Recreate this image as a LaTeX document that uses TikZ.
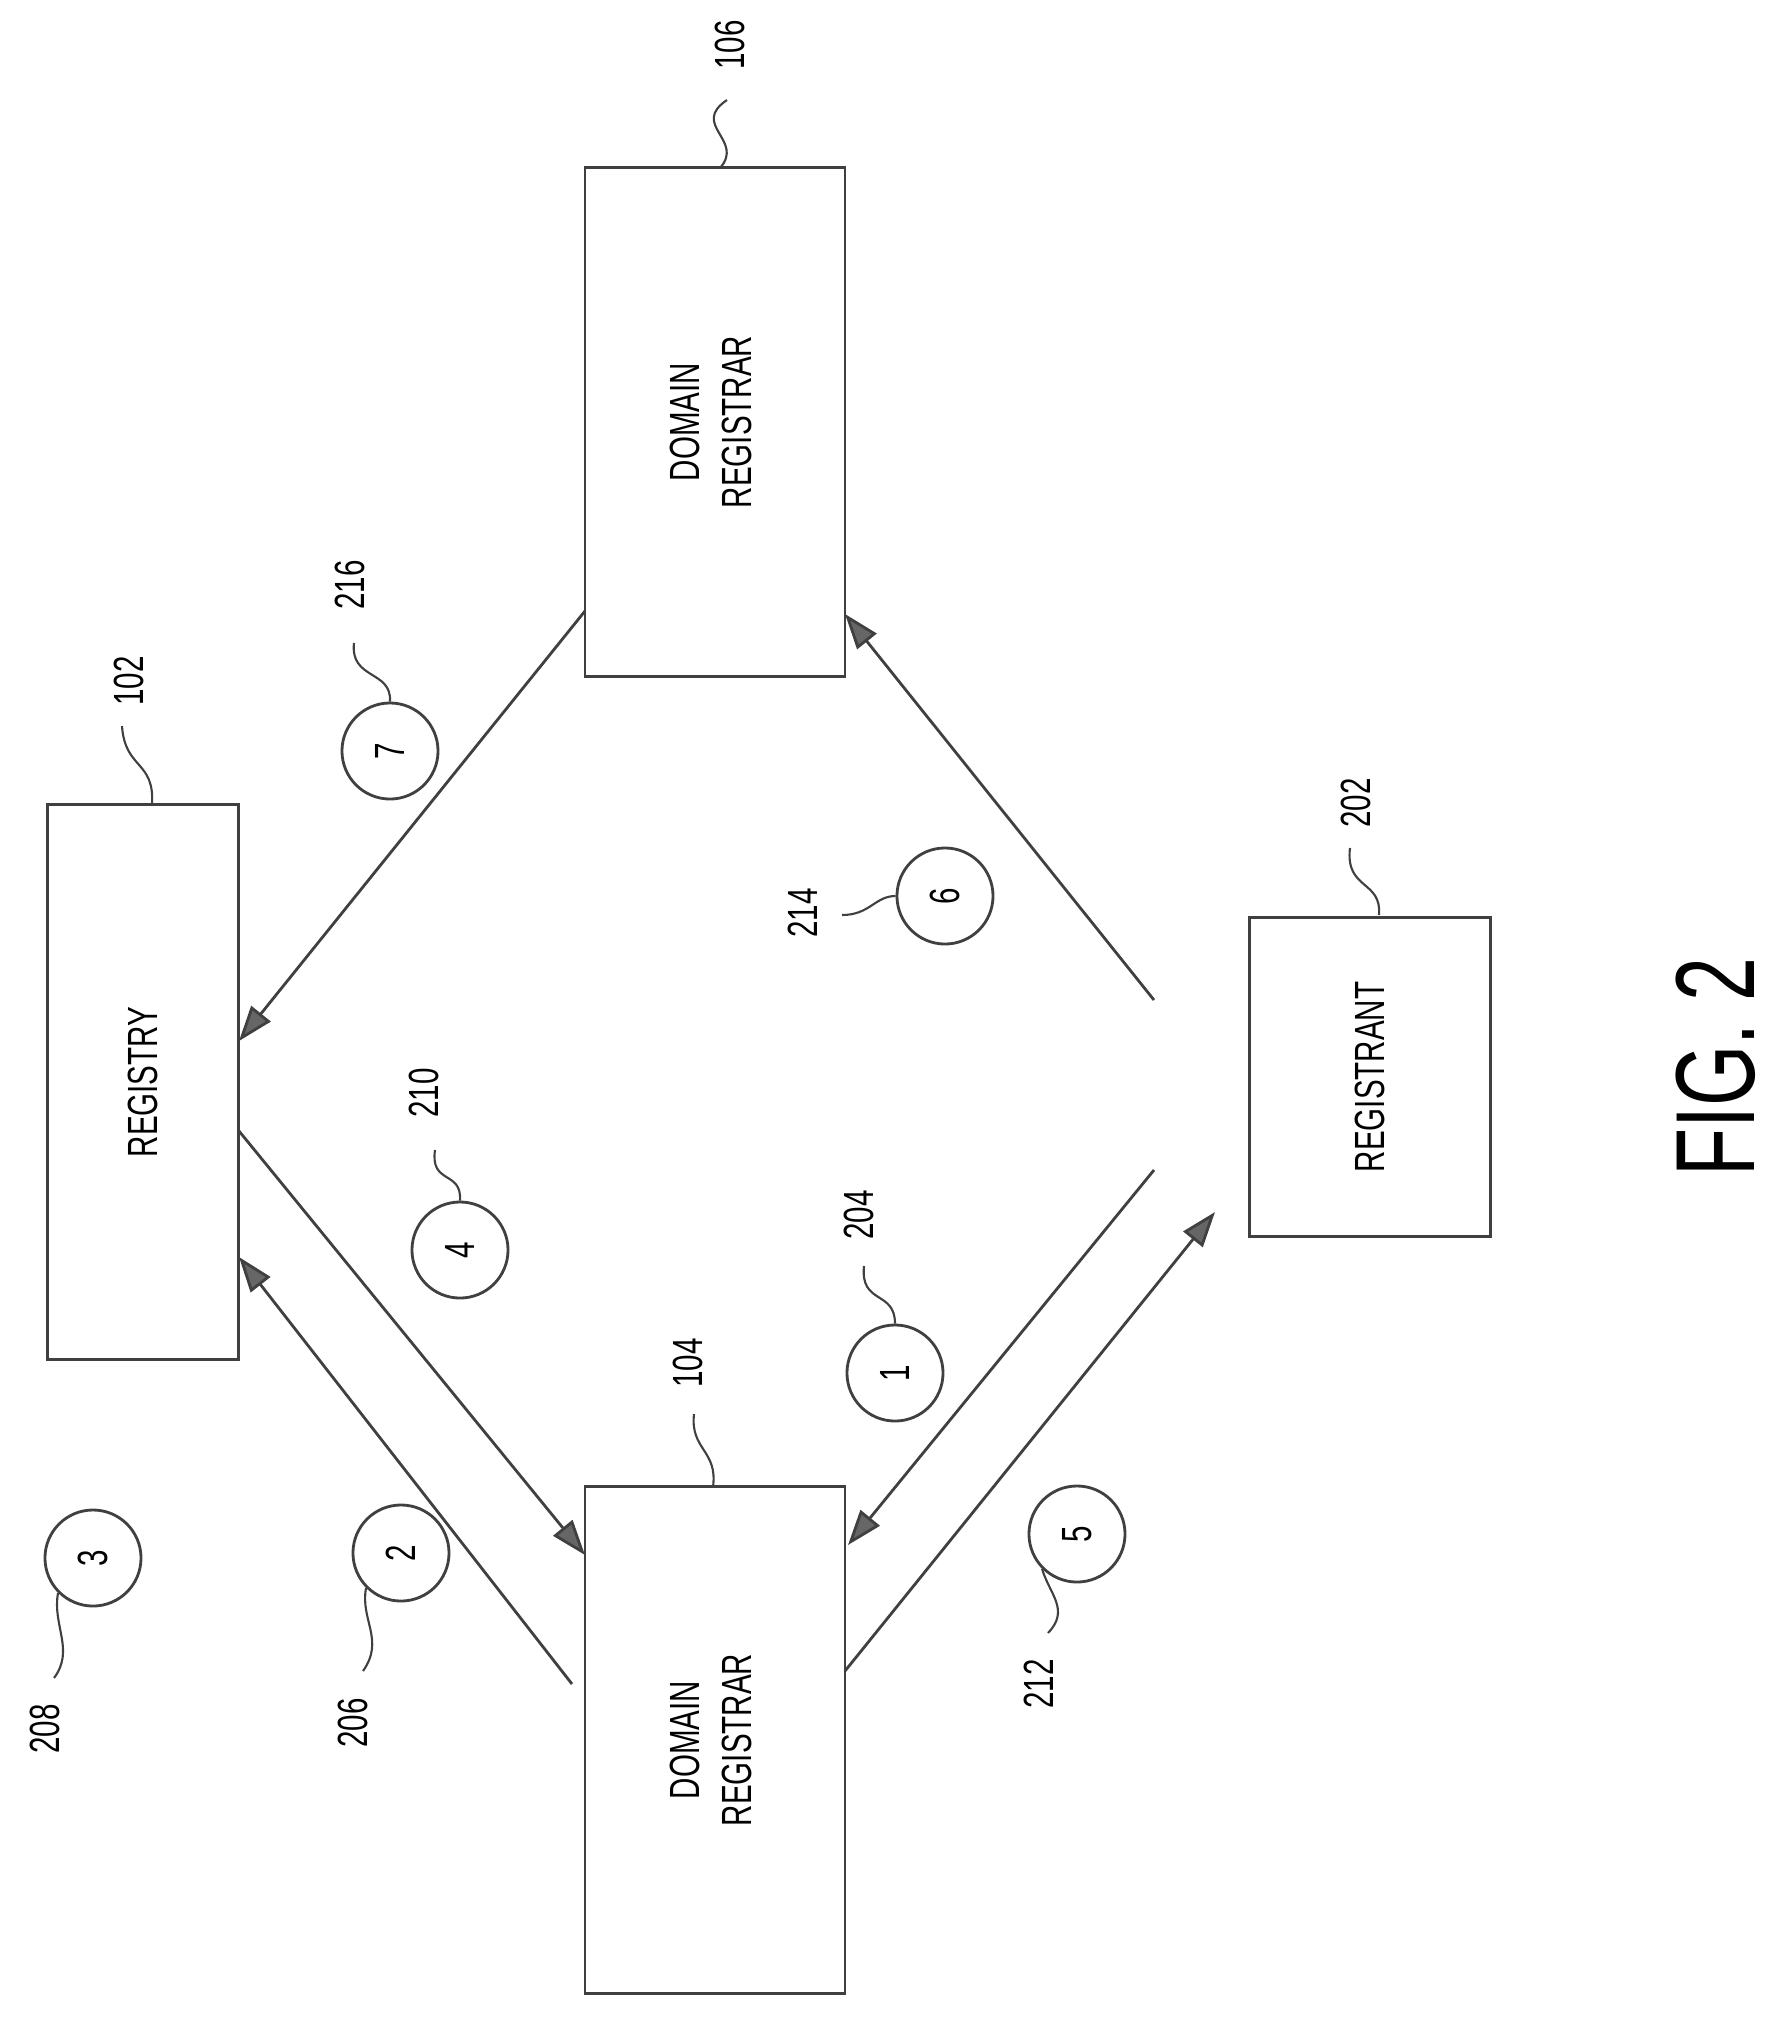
\documentclass[tikz,border=0pt]{standalone}
\usepackage{fontspec}
\setmainfont{Liberation Sans}[FakeStretch=0.7]
\usetikzlibrary{arrows.meta}

\begin{document}
\begin{tikzpicture}[x=0.01cm, y=-0.01cm, thick, draw=black!75,
  box/.style={draw=black!75, rectangle, inner sep=0pt, font=\fontsize{12}{15}\selectfont},
  num/.style={draw=black!75, circle, minimum size=0.96cm, inner sep=0pt, font=\fontsize{12}{14}\selectfont},
  lbl/.style={rotate=90, inner sep=1pt, font=\fontsize{12}{14}\selectfont},
  flow/.style={-{Triangle[length=10pt, width=7pt, fill=black!60]}},
  lead/.style={black!75, semithick}]
  \useasboundingbox (0,0) rectangle (1774,2020);

  % boxes
  \node[box, minimum width=1.91cm, minimum height=5.55cm] (registry) at (143,1082)
       {\rotatebox{90}{REGISTRY}};
  \node[box, minimum width=2.6cm, minimum height=5.06cm] (dr104) at (715,1740)
       {\rotatebox{90}{\begin{tabular}{c}DOMAIN\\REGISTRAR\end{tabular}}};
  \node[box, minimum width=2.6cm, minimum height=5.09cm] (dr106) at (715,422)
       {\rotatebox{90}{\begin{tabular}{c}DOMAIN\\REGISTRAR\end{tabular}}};
  \node[box, minimum width=2.41cm, minimum height=3.19cm] (registrant) at (1370,1077)
       {\rotatebox{90}{REGISTRANT}};

  % free ends near the registrant
  \coordinate (in1) at (1154,1170);
  \coordinate (out5) at (1215,1212);
  \coordinate (in6) at (1154,1000);

  % flows
  \draw[flow] (in1) -- (848,1545);
  \draw[flow] (572,1684) -- (239,1257);
  \draw[flow] (845,1671) -- (out5);
  \draw[flow] (239,1131) -- (585,1555);
  \draw[flow] (in6) -- (845,614);
  \draw[flow] (585,611) -- (239,1041);

  % step numbers
  \node[num] (c1) at (895,1373) {\rotatebox{90}{1}};
  \node[num] (c2) at (401,1553) {\rotatebox{90}{2}};
  \node[num] (c3) at (93,1558) {\rotatebox{90}{3}};
  \node[num] (c4) at (460,1250) {\rotatebox{90}{4}};
  \node[num] (c5) at (1077,1534) {\rotatebox{90}{5}};
  \node[num] (c6) at (945,896) {\rotatebox{90}{6}};
  \node[num] (c7) at (390,751) {\rotatebox{90}{7}};

  % reference numerals
  \node[lbl] (l106) at (730,45) {106};
  \node[lbl] (l102) at (129,681) {102};
  \node[lbl] (l104) at (688,1363) {104};
  \node[lbl] (l202) at (1356,803) {202};
  \node[lbl] (l204) at (859,1215) {204};
  \node[lbl] (l206) at (353,1723) {206};
  \node[lbl] (l208) at (45,1729) {208};
  \node[lbl] (l210) at (424,1093) {210};
  \node[lbl] (l212) at (1039,1684) {212};
  \node[lbl] (l214) at (803,913) {214};
  \node[lbl] (l216) at (350,585) {216};

  % leaders
  \draw[lead] (727,100) .. controls (690,125) and (745,140) .. (720,168);
  \draw[lead] (122,726) .. controls (125,770) and (155,760) .. (152,805);
  \draw[lead] (694,1414) .. controls (690,1450) and (718,1450) .. (713,1487);
  \draw[lead] (1350,848) .. controls (1345,890) and (1382,880) .. (1379,915);
  \draw[lead] (864,1266) .. controls (860,1305) and (895,1290) .. (c1.north);
  \draw[lead] (363,1671) .. controls (385,1640) and (360,1620) .. (c2.south west);
  \draw[lead] (54,1678) .. controls (75,1650) and (52,1625) .. (c3.south west);
  \draw[lead] (435,1150) .. controls (430,1185) and (462,1170) .. (c4.north);
  \draw[lead] (1048,1633) .. controls (1070,1610) and (1050,1595) .. (c5.south west);
  \draw[lead] (842,915) .. controls (870,915) and (875,896) .. (c6.west);
  \draw[lead] (354,643) .. controls (350,680) and (392,670) .. (c7.north);

  \node[rotate=90, font=\fontsize{32}{36}\selectfont] (fig) at (1716,1067) {FIG. 2};
\end{tikzpicture}
\end{document}
